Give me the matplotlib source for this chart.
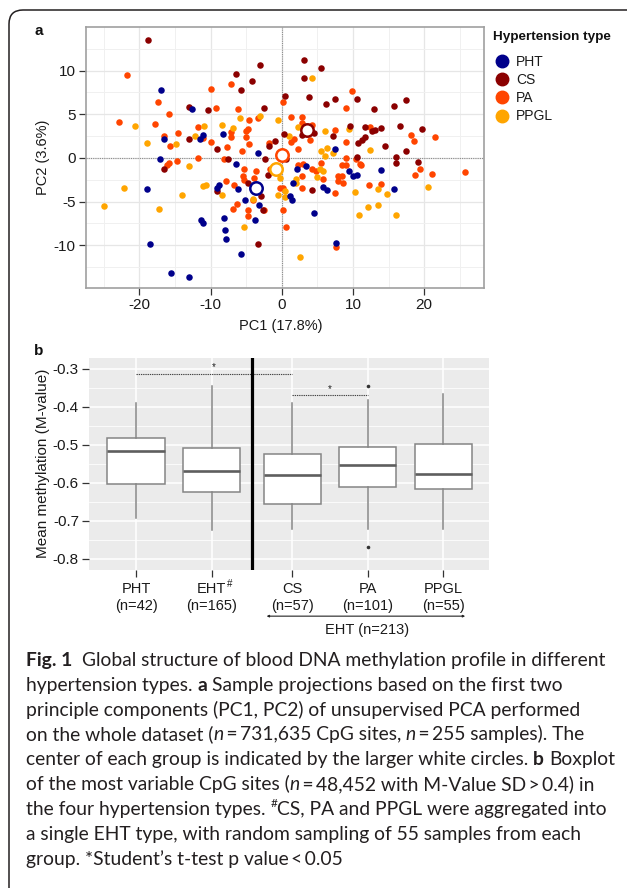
import numpy as np
import matplotlib
matplotlib.use("Agg")
import matplotlib.pyplot as plt
from matplotlib.lines import Line2D
from matplotlib.path import Path
from matplotlib.patches import PathPatch

# ---------------- data: panel a (PCA scores) ----------------
pht_pc1 = [-16.9, -16.6, -17.1, -12.6, -11.05, -11.5, -8.3, -3.3, -18.9, -18.5, -15.5, -13.0,
           -11.3, -11.05, -8.85, -9.1, -8.1, -8.0, -7.8, -6.1, -5.7, -5.15, -3.2, -3.75, -6.4,
           7.5, 15.8, 7.6, 4.5, 5.76, 6.3, 1.5, 1.17, 1.59, 2.1, 3.4, 9.5, 10.06, 10.6, 14.0]
pht_pc2 = [7.75, 2.14, -0.15, 5.61, 2.63, 2.21, 2.79, 0.53, -3.59, -9.85, -13.2, -13.6,
           -7.1, -7.48, -3.13, -3.44, -6.9, -8.28, -9.3, -3.55, -10.96, -4.85, -5.42, -7.06, -0.73,
           1.0, -3.59, -9.77, -6.3, -3.28, -3.63, -4.77, -4.39, -2.86, -1.3, -0.95, -1.45, -2.06, -1.91, -1.34]

cs_pc1 = [-18.8, -13.0, -13.0, -10.3, -9.1, -6.4, -5.7, -4.2, -3.1, -2.5, 0.4, -1.8, -1.0, 0.3,
          -2.4, -7.6, 3.18, 5.48, 3.18, 3.88, 6.2, 7.5, 10.6, 12.9, 15.7, 17.5, 4.5, 2.8, 7.2,
          9.6, 11.7, 12.7, 13.1, 14.0, 11.7, 11.2, 10.7, 16.6, 19.7, 14.5, 17.4, 16.0, 10.6,
          -16.5, -9.1, -2.9, -2.7, -3.4, -4.7, -2.0, 16.1, 19.2, 4.26, 0.6]
cs_pc2 = [13.55, 5.84, 2.21, 5.46, 1.07, 9.58, 7.83, 8.86, 10.6, 5.69, 7.07, 1.37, 1.98, 2.71,
          -0.15, -0.1, 11.26, 10.35, 9.2, 6.99, 6.22, 6.72, 6.72, 5.65, 6.0, 6.6, 2.86, 2.6, 2.48,
          3.63, 3.52, 3.13, 3.2, 3.48, 2.4, 2.1, 1.76, 3.7, 3.36, 1.37, 0.84, 0.15, 0.07,
          -1.3, -3.74, -4.39, -5.96, -9.85, -2.83, -1.98, -0.53, -0.5, -3.63, -0.15]

pa_pc1 = [-21.7, -17.4, -22.9, -17.75, -15.8, -16.6, -15.7, -14.6, -11.7, -11.0, -11.75, -9.97,
          -9.2, -10.0, -7.7, -7.2, -7.1, -7.1, -6.1, -4.6, -4.7, -5.0, -5.0, -4.6, -5.6, -3.4,
          0.14, -1.74, -8.1, -15.8, -14.75, -16.1, 9.8, 9.0, 1.26, 2.8, 2.8, 4.26, 1.73, 1.35,
          3.93, 2.33, 7.5, 9.0, 12.4, 18.2, 18.5, 21.5, 9.0, -7.9, -6.7, -6.3, -6.8, -4.7, -4.8,
          -4.1, -2.5, -5.4, -5.25, -3.6, -3.9, -5.3, -1.7, -0.3, 0.14, 0.1, 0.6, 19.4, 18.7,
          21.1, 25.8, 13.9, 12.3, 7.6, 7.5, 2.9, 2.8, 2.3, 3.0, 4.26, 4.86, 5.85, 5.56, 7.95,
          8.5, 7.95, 8.6, 8.4, 9.0, 11.1, 10.4, 11.0]
pa_pc2 = [9.47, 6.45, 4.16, 3.93, 5.0, 2.48, 1.34, 2.86, 3.55, 2.25, 0.04, 7.94,
          5.73, 1.83, 1.3, 3.0, 2.37, 8.5, 5.61, 4.35, 3.36, 3.05, 2.4, 1.64, 0.76, 4.58,
          6.45, 1.76, -0.1, -0.53, -0.38, -0.76, 7.64, 5.76, 4.73, 4.66, 4.0, 3.78, 2.21, 1.83,
          2.1, 1.0, 3.2, 1.87, 3.59, 2.63, 1.91, 2.4, -0.04, -2.67, -3.05, -5.3, -5.8, -5.96, -6.68,
          -4.78, -5.96, -2.06, -2.5, -1.49, -2.3, -1.3, -1.22, -3.47, -3.44, -5.96, -7.9, -1.22, -1.91,
          -1.8, -1.57, -3.02, -3.1, -10.16, -4.05, -3.47, -2.1, -0.84, -0.72, -1.26, -1.45, -2.37, -0.53, -2.02,
          -2.1, -2.63, -2.83, -0.76, -0.76, -0.76, -0.15, -0.72]

ppgl_pc1 = [-20.6, -19.0, -14.9, -12.2, -10.9, -8.4, -6.8, -5.86, -3.0, -0.6, 4.2, 2.25, 0.98,
            6.08, 9.4, 12.4, 5.5, 6.4, 7.2, 6.1, -13.1, -22.2, -25.0, -17.2, -14.0, -11.1, -10.7,
            -8.4, -5.3, -4.0, -0.24, -0.56, 20.5, 14.8, 13.5, 13.5, 12.1, 10.9, 16.1, 10.3, 2.5,
            0.5, 0.5, 1.97, 2.05, 5.38, 5.8, 5.0]
ppgl_pc2 = [3.70, 1.76, 1.64, 2.48, 3.67, 3.74, 3.47, 4.55, 4.77, 4.32, 9.2, 3.59, 2.54,
            3.05, 3.32, 0.88, 0.8, 1.11, 0.53, 0.27, -0.88, -3.4, -5.5, -5.88, -4.27, -3.2, -3.1,
            -4.2, -7.87, -4.7, -2.25, -4.27, -3.32, -4.12, -3.59, -5.35, -5.58, -6.53, -6.49, -3.9, -11.4,
            -4.47, -3.78, -2.44, -2.83, -1.22, -1.45, -2.18]

group_names = ["PHT", "CS", "PA", "PPGL"]
group_colors = ["#00008B", "#8B0000", "#FF4500", "#FFA500"]
centroid_pc1 = [-3.65, 3.5, 0.0, -0.84]
centroid_pc2 = [-3.5, 3.17, 0.35, -1.22]

# ---------------- data: panel b (boxplot stats) ----------------
box_groups = ["PHT", "EHT", "CS", "PA", "PPGL"]
box_n = [42, 165, 57, 101, 55]
box_q1 = [-0.602, -0.624, -0.656, -0.611, -0.617]
box_med = [-0.517, -0.568, -0.579, -0.554, -0.576]
box_q3 = [-0.482, -0.508, -0.525, -0.506, -0.498]
box_whislo = [-0.693, -0.724, -0.721, -0.722, -0.722]
box_whishi = [-0.390, -0.345, -0.390, -0.382, -0.366]
box_fliers = [[], [], [], [-0.345, -0.768], []]
sig_pairs = [(0, 2, -0.312), (2, 3, -0.369)]
eht_total = 213

caption_lines = [
    [("Fig. 1", "b"), ("Global structure of blood DNA methylation profile in different", "r", 2)],
    [("hypertension types.", "r"), ("a", "b", 1), ("Sample projections based on the first two", "r", 1)],
    [("principle components (PC1, PC2) of unsupervised PCA performed", "r")],
    [("on the whole dataset (", "r"), ("n", "i", 0), ("\u2009=\u2009731,635 CpG sites,", "r", 0), ("n", "i", 1),
     ("\u2009=\u2009255 samples). The", "r", 0)],
    [("center of each group is indicated by the larger white circles.", "r"), ("b", "b", 1), ("Boxplot", "r", 1)],
    [("of the most variable CpG sites (", "r"), ("n", "i", 0), ("\u2009=\u200948,452 with M-Value SD\u2009>\u20090.4) in", "r", 0)],
    [("the four hypertension types.", "r"), ("#", "sup", 1), ("CS, PA and PPGL were aggregated into", "r", 0)],
    [("a single EHT type, with random sampling of 55 samples from each", "r")],
    [("group. *Student\u2019s t-test p value\u2009<\u20090.05", "r")],
]

# ---------------- figure ----------------
W, H = 627, 888
fig = plt.figure(figsize=(W / 100, H / 100), dpi=100)
plt.rcParams["font.family"] = ["Liberation Sans", "DejaVu Sans"]

bg = fig.add_axes([0, 0, 1, 1], zorder=-5)
bg.set_xlim(0, W)
bg.set_ylim(H, 0)
bg.axis("off")

# rounded frame (top + left)
verts = [(9, H + 20), (9, 24), (9, 10), (23, 10), (W + 5, 10)]
codes = [Path.MOVETO, Path.LINETO, Path.CURVE3, Path.CURVE3, Path.LINETO]
bg.add_patch(PathPatch(Path(verts, codes), fill=False, lw=1.1, edgecolor="#231f20"))

tick_col = "#333333"
txt_col = "#1a1a1a"

# ---------------- panel a ----------------
axa = fig.add_axes([86 / W, 1 - 288 / H, (484 - 86) / W, (288 - 27) / H])
axa.set_facecolor("white")
axa.set_xlim(-27.5, 28.4)
axa.set_ylim(-14.9, 15.0)
axa.set_xticks([-20, -10, 0, 10, 20])
axa.set_xticklabels(["-20", "-10", "0", "10", "20"])
axa.set_yticks([-10, -5, 0, 5, 10])
axa.set_yticklabels(["-10", "-5", "0", "5", "10"])
axa.set_xticks([-25, -15, -5, 5, 15, 25], minor=True)
axa.set_yticks([-12.5, -7.5, -2.5, 2.5, 7.5, 12.5], minor=True)
axa.grid(True, which="major", color="#e6e6e6", lw=0.9)
axa.grid(True, which="minor", color="#f0f0f0", lw=0.7)
axa.tick_params(which="minor", length=0)
axa.tick_params(which="major", length=5, width=0.9, color=tick_col, pad=2.5,
                labelsize=11, labelcolor=txt_col)
axa.set_axisbelow(True)
for s in axa.spines.values():
    s.set_color("#a0a0a0")
    s.set_linewidth(1.2)
axa.axhline(0, color="#8c8c8c", lw=0.8, ls=(0, (1, 1)), zorder=1)
axa.axvline(0, color="#8c8c8c", lw=0.8, ls=(0, (1, 1)), zorder=1)

xs = [pht_pc1, cs_pc1, pa_pc1, ppgl_pc1]
ys = [pht_pc2, cs_pc2, pa_pc2, ppgl_pc2]
for order in [2, 3, 1, 0]:
    axa.scatter(xs[order], ys[order], s=22, color=group_colors[order], lw=0, zorder=3)
for i in range(4):
    axa.scatter([centroid_pc1[i]], [centroid_pc2[i]], s=80, facecolor="white",
                edgecolor=group_colors[i], lw=1.8, zorder=4)

axa.set_xlabel("PC1 (17.8%)", fontsize=10.5, color=txt_col, va="center")
axa.xaxis.set_label_coords(0.49, -0.145)
axa.set_ylabel("PC2 (3.6%)", fontsize=10.5, color=txt_col, va="center")
axa.yaxis.set_label_coords(-0.108, 0.5)

# legend: title as text, entries through legend
bg.text(492.7, 36.7, "Hypertension type", fontsize=9.7, fontweight="bold", ha="left",
        va="center", color="#111111")
handles = [Line2D([], [], marker="o", ls="", color=c, markersize=9) for c in group_colors]
leg = axa.legend(handles, group_names, loc="upper left", bbox_to_anchor=(495 / W, 1 - 55 / H),
                 bbox_transform=fig.transFigure, frameon=False, fontsize=10,
                 borderaxespad=0, borderpad=0, handletextpad=0.5,
                 labelspacing=0.3, handlelength=1.0)
for t in leg.get_texts():
    t.set_color(txt_col)

# ---------------- panel b ----------------
axb = fig.add_axes([89.3 / W, 1 - 570 / H, 400 / W, (570 - 358.3) / H])
axb.set_facecolor("#ebebeb")
pos = [1 + i + (0.07 if i >= 2 else 0) for i in range(len(box_groups))]
axb.set_xlim(0.38, 5.68)
axb.set_ylim(-0.829, -0.272)
yt = [-0.3, -0.4, -0.5, -0.6, -0.7, -0.8]
axb.set_yticks(yt)
axb.set_yticklabels(["%.1f" % v for v in yt])
axb.set_yticks([-0.35, -0.45, -0.55, -0.65, -0.75], minor=True)
axb.grid(True, which="major", color="white", lw=1.1)
axb.grid(True, which="minor", axis="y", color="white", lw=0.55)
axb.tick_params(which="minor", length=0)
axb.tick_params(which="major", length=5, width=0.9, color=tick_col, labelcolor=txt_col)
axb.tick_params(axis="x", pad=3.5, labelsize=10.5)
axb.tick_params(axis="y", pad=2.5, labelsize=11)
axb.set_axisbelow(True)
for s in axb.spines.values():
    s.set_visible(False)

stats = []
for i, g in enumerate(box_groups):
    stats.append(dict(label=g, q1=box_q1[i], med=box_med[i], q3=box_q3[i],
                      whislo=box_whislo[i], whishi=box_whishi[i], fliers=box_fliers[i]))
box_col = "#858585"
axb.bxp(stats, positions=pos, widths=0.76, showcaps=False, patch_artist=True,
        boxprops=dict(facecolor="white", edgecolor=box_col, lw=1.1),
        whiskerprops=dict(color=box_col, lw=1.1),
        medianprops=dict(color="#5e5e5e", lw=1.9),
        flierprops=dict(marker="o", markersize=2.6, markerfacecolor="#333333",
                        markeredgecolor="none"),
        manage_ticks=False, zorder=3)
axb.set_xticks(pos)
axb.set_xticklabels(box_groups)
xtr = axb.get_xaxis_transform()
for p, n in zip(pos, box_n):
    axb.text(p, -0.170, "(n=%d)" % n, transform=xtr, ha="center", va="center",
             fontsize=10.5, color=txt_col, clip_on=False)
# superscript '#' after EHT
axb.text(pos[1] + 0.205, -0.042, "#", transform=xtr, ha="left",
         va="top", fontsize=7, color=txt_col, clip_on=False)

sep_x = (pos[1] + pos[2]) / 2 + 0.005
axb.axvline(sep_x, color="black", lw=2.3, zorder=5)

for a, b, yv in sig_pairs:
    axb.plot([pos[a], pos[b]], [yv, yv], color="#444444", lw=0.8, ls=(0, (1.2, 0.8)), zorder=4)
    axb.text((pos[a] + pos[b]) / 2, yv + 0.003, "*", ha="center", va="bottom", fontsize=7,
             color="#222222", zorder=4)

axb.set_ylabel("Mean methylation (M-value)", fontsize=11, color=txt_col, va="center")
axb.yaxis.set_label_coords(-0.116, 0.505)

# EHT bracket under CS/PA/PPGL
axb.annotate("", xy=(5.36, -0.218), xytext=(2.73, -0.218),
             xycoords=("data", "axes fraction"), textcoords=("data", "axes fraction"),
             arrowprops=dict(arrowstyle="<|-|>", lw=0.8, color="#222222",
                             mutation_scale=3, shrinkA=0, shrinkB=0),
             annotation_clip=False)
axb.text(pos[3] - 0.01, -0.283, "EHT (n=%d)" % eht_total, transform=xtr,
         ha="center", va="center", fontsize=10.5, color=txt_col, clip_on=False)

# panel letters
bg.text(39, 31, "a", fontsize=11, fontweight="bold", ha="center", va="center", color="#111111")
bg.text(39, 351, "b", fontsize=11, fontweight="bold", ha="center", va="center", color="#111111")

# ---------------- caption ----------------
renderer = fig.canvas.get_renderer()
cap_family = ["Lato", "DejaVu Sans"]
cap_col = "#231f20"


def measure(txt, size, style):
    kw = dict(fontsize=size, family=cap_family)
    if style == "b":
        kw["fontweight"] = "bold"
    if style == "i":
        kw["fontstyle"] = "italic"
    t = bg.text(0, 0, txt, **kw)
    w = t.get_window_extent(renderer).width
    t.remove()
    return w


base = 14.0
target = 608 - 26
w_line1 = measure("Fig. 1", base, "b") + 2 * (measure("x x", base, "r") - measure("xx", base, "r")) \
    + measure("Global structure of blood DNA methylation profile in different", base, "r")
size = base * target / w_line1
space = measure("x x", size, "r") - measure("xx", size, "r")

x0 = 26
y0 = 665.7
dy = 24.9
for li, segs in enumerate(caption_lines):
    x = x0
    y = y0 + li * dy
    for k, seg in enumerate(segs):
        txt, style = seg[0], seg[1]
        nsp = seg[2] if len(seg) > 2 else (0 if k == 0 else 1)
        x += nsp * space
        kw = dict(fontsize=size, family=cap_family, color=cap_col, ha="left", va="baseline")
        yy = y
        if style == "b":
            kw["fontweight"] = "bold"
        elif style == "i":
            kw["fontstyle"] = "italic"
        elif style == "sup":
            kw["fontsize"] = size * 0.62
            yy = y - size * 0.55
        t = bg.text(x, yy, txt, **kw)
        x += t.get_window_extent(renderer).width

fig.savefig("out.png", dpi=100)
